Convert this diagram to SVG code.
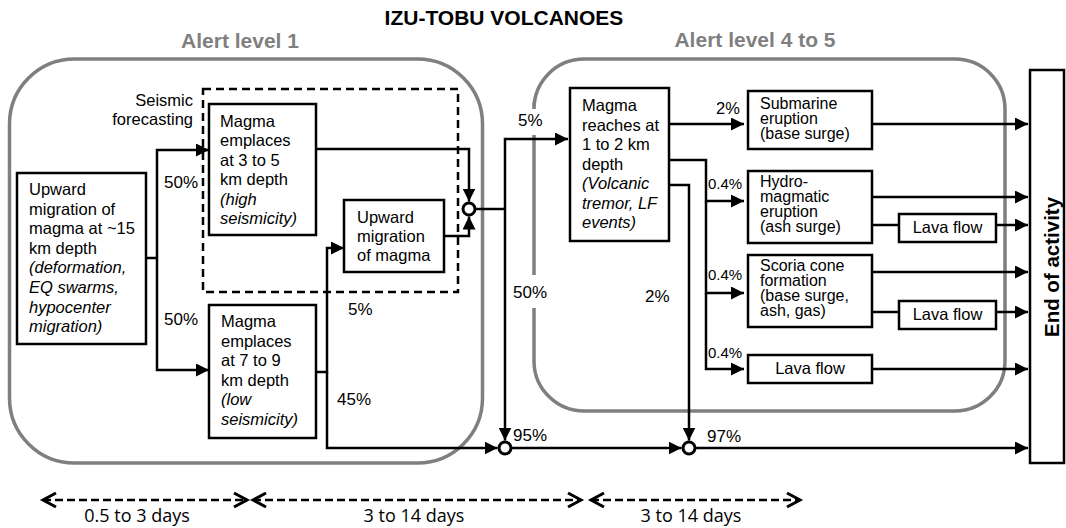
<svg xmlns="http://www.w3.org/2000/svg" width="1066" height="528" viewBox="0 0 1066 528">
<style>
text{font-family:"Liberation Sans",Arial,sans-serif;font-size:16.5px;fill:#000}
.it{font-style:italic}
.pct{font-size:17px}
.sm{font-size:15px}
.tight{font-size:16px}
.title{font-size:21px;font-weight:bold}
.alert{font-size:21px;font-weight:bold;fill:#7f7f7f}
.end{font-size:20.5px;font-weight:bold}
.days{font-family:"Open Sans","Noto Sans",sans-serif;font-size:18px}
.box{fill:#fff;stroke:#000;stroke-width:2.5}
.ln{fill:none;stroke:#000;stroke-width:2.5}
.arr{marker-end:url(#ah)}
.grp{fill:none;stroke:#7f7f7f;stroke-width:3.5}
.dash{fill:none;stroke:#000;stroke-width:2.5;stroke-dasharray:8 5}
.tl{fill:none;stroke:#000;stroke-width:2.5;stroke-dasharray:8 4;marker-start:url(#ch);marker-end:url(#ch)}
.node{fill:#fff;stroke:#000;stroke-width:3}
</style>
<defs>
<marker id="ah" markerUnits="userSpaceOnUse" markerWidth="13" markerHeight="13" refX="13" refY="6.5" orient="auto"><path d="M0,0 L13,6.5 L0,13 z" fill="#000"/></marker>
<marker id="ch" markerUnits="userSpaceOnUse" markerWidth="18" markerHeight="18" refX="13" refY="7" orient="auto-start-reverse" overflow="visible"><path d="M0,0 L13,7 L0,14" fill="none" stroke="#000" stroke-width="3"/></marker>
</defs>

<g id="headings">
<text class="title" x="504" y="25" text-anchor="middle">IZU-TOBU VOLCANOES</text>
<text class="alert" x="240" y="48" text-anchor="middle">Alert level 1</text>
<text class="alert" x="755" y="47" text-anchor="middle">Alert level 4 to 5</text>
</g>

<g id="alert1">
<rect class="grp" x="9.5" y="59" width="473" height="404" rx="65"/>
</g>
<g id="alert45">
<path class="grp" d="M534,102 L534,109 A50,50 0 0 1 584,59 L955,59 A50,50 0 0 1 1005,109 L1005,361 A50,50 0 0 1 955,411 L584,411 A50,50 0 0 1 534,361 L534,308 M534,275 L534,135"/>
</g>
<g id="seismic-forecasting">
<rect class="dash" x="203" y="89" width="255" height="203"/>
<text x="193" y="106" text-anchor="end">Seismic</text>
<text x="193" y="125" text-anchor="end">forecasting</text>
</g>

<g id="connectors">
<path class="ln" d="M146,258 H157"/>
<path class="ln arr" d="M157,258 V150 H209"/>
<path class="ln arr" d="M157,258 V370 H209"/>
<path class="ln arr" d="M316,149 H469 V201.5"/>
<path class="ln arr" d="M444,236 H469 V216.5"/>
<path class="ln arr" d="M316,372 H327 V248 H344"/>
<path class="ln arr" d="M327,372 V448 H497.5"/>
<path class="ln" d="M475,209 H505"/>
<path class="ln arr" d="M505,209 V139 H568"/>
<path class="ln arr" d="M505,209 V440.5"/>
<path class="ln arr" d="M511,448 H681.5"/>
<path class="ln arr" d="M695,448 H1028"/>
<path class="ln arr" d="M669,124 H744"/>
<path class="ln arr" d="M669,160 H706 V201 H744"/>
<path class="ln arr" d="M706,201 V293 H744"/>
<path class="ln arr" d="M706,293 V369 H744"/>
<path class="ln arr" d="M669,185 H689 V440.5"/>
<path class="ln arr" d="M872,124 H1028"/>
<path class="ln arr" d="M872,197 H1028"/>
<path class="ln" d="M872,225 H899"/>
<path class="ln arr" d="M996,225 H1028"/>
<path class="ln arr" d="M872,272 H1028"/>
<path class="ln" d="M872,312 H899"/>
<path class="ln arr" d="M996,312 H1028"/>
<path class="ln arr" d="M872,369 H1028"/>
<circle class="node" cx="469" cy="209" r="6"/>
<circle class="node" cx="505" cy="448" r="6"/>
<circle class="node" cx="689" cy="448" r="6"/>
</g>

<g id="labels">
<text class="pct" x="164" y="188">50%</text>
<text class="pct" x="164" y="325">50%</text>
<text class="pct" x="348" y="315">5%</text>
<text class="pct" x="337" y="405">45%</text>
<text class="pct" x="518" y="126">5%</text>
<text class="pct" x="513" y="298">50%</text>
<text class="pct" x="513" y="441">95%</text>
<text x="716" y="114">2%</text>
<text class="sm" x="708" y="189">0.4%</text>
<text class="sm" x="708" y="280">0.4%</text>
<text class="sm" x="708" y="358">0.4%</text>
<text class="pct" x="645" y="302">2%</text>
<text class="pct" x="707" y="442">97%</text>
</g>

<g id="n-upward15">
<rect class="box" x="17" y="173" width="129" height="171"/>
<text x="29" y="195">Upward</text>
<text x="29" y="214.6">migration of</text>
<text x="29" y="234.2">magma at ~15</text>
<text x="29" y="253.8">km depth</text>
<text class="it" x="29" y="273.4">(deformation,</text>
<text class="it" x="29" y="293">EQ swarms,</text>
<text class="it" x="29" y="312.6">hypocenter</text>
<text class="it" x="29" y="332.2">migration)</text>
</g>
<g id="n-emplace35">
<rect class="box" x="209" y="104" width="107" height="131"/>
<text x="220" y="126.5">Magma</text>
<text x="220" y="146">emplaces</text>
<text x="220" y="165.5">at 3 to 5</text>
<text x="220" y="185">km depth</text>
<text class="it" x="220" y="204.5">(high</text>
<text class="it" x="220" y="224">seismicity)</text>
</g>
<g id="n-emplace79">
<rect class="box" x="209" y="305" width="107" height="133"/>
<text x="221" y="327">Magma</text>
<text x="221" y="346.5">emplaces</text>
<text x="221" y="366">at 7 to 9</text>
<text x="221" y="385.5">km depth</text>
<text class="it" x="221" y="405">(low</text>
<text class="it" x="221" y="424.5">seismicity)</text>
</g>
<g id="n-upmig">
<rect class="box" x="344" y="200" width="100" height="72"/>
<text x="357" y="223">Upward</text>
<text x="357" y="242">migration</text>
<text x="357" y="261">of magma</text>
</g>
<g id="n-reaches">
<rect class="box" x="570" y="88" width="99" height="153"/>
<text x="582" y="111">Magma</text>
<text x="582" y="130.5">reaches at</text>
<text x="582" y="150">1 to 2 km</text>
<text x="582" y="169.5">depth</text>
<text class="it" x="582" y="189">(Volcanic</text>
<text class="it" x="582" y="208.5">tremor, LF</text>
<text class="it" x="582" y="228">events)</text>
</g>
<g id="n-submarine">
<rect class="box" x="748" y="91" width="124" height="58"/>
<text class="tight" x="760" y="108.5">Submarine</text>
<text class="tight" x="760" y="123.5">eruption</text>
<text class="tight" x="760" y="138.5">(base surge)</text>
</g>
<g id="n-hydro">
<rect class="box" x="748" y="171" width="124" height="72"/>
<text class="tight" x="760" y="187">Hydro-</text>
<text class="tight" x="760" y="202">magmatic</text>
<text class="tight" x="760" y="217">eruption</text>
<text class="tight" x="760" y="232">(ash surge)</text>
</g>
<g id="n-lava1">
<rect class="box" x="899" y="214" width="97" height="28"/>
<text x="947.5" y="233" text-anchor="middle">Lava flow</text>
</g>
<g id="n-scoria">
<rect class="box" x="748" y="255" width="124" height="72"/>
<text class="tight" x="760" y="271">Scoria cone</text>
<text class="tight" x="760" y="286">formation</text>
<text class="tight" x="760" y="301">(base surge,</text>
<text class="tight" x="760" y="316">ash, gas)</text>
</g>
<g id="n-lava2">
<rect class="box" x="899" y="301" width="97" height="28"/>
<text x="947.5" y="320" text-anchor="middle">Lava flow</text>
</g>
<g id="n-lava3">
<rect class="box" x="748" y="355" width="124" height="28"/>
<text x="810" y="374" text-anchor="middle">Lava flow</text>
</g>
<g id="n-end">
<rect class="box" x="1030" y="70" width="34" height="393"/>
<text class="end" transform="translate(1059,267) rotate(-90)" text-anchor="middle">End of activity</text>
</g>

<g id="timeline">
<path class="tl" d="M43,500 H247"/>
<path class="tl" d="M253,500 H581"/>
<path class="tl" d="M591,500 H800"/>
<text class="days" x="137" y="522" text-anchor="middle">0.5 to 3 days</text>
<text class="days" x="414" y="522" text-anchor="middle">3 to 14 days</text>
<text class="days" x="691" y="522" text-anchor="middle">3 to 14 days</text>
</g>
</svg>
